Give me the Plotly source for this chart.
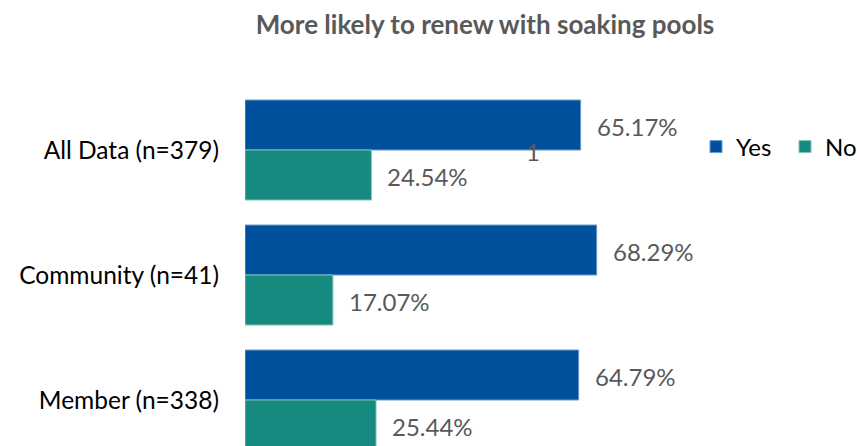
import plotly.graph_objects as go

categories = ["All Data (n=379)", "Community (n=41)", "Member (n=338)"]
yes_pct = [65.17, 68.29, 64.79]
no_pct = [24.54, 17.07, 25.44]
series_names = ["Yes", "No"]
title_text = "More likely to renew with soaking pools"

YES_COLOR = "#00509B"
NO_COLOR = "#178A80"
LABEL_GRAY = "#595959"
FONT = "Lato"

fig = go.Figure()
fig.add_trace(go.Bar(
    y=categories, x=yes_pct, name=series_names[0], orientation="h",
    marker=dict(color=YES_COLOR, line=dict(color="#6D9BD1", width=1)),
))
fig.add_trace(go.Bar(
    y=categories, x=no_pct, name=series_names[1], orientation="h",
    marker=dict(color=NO_COLOR, line=dict(color="#7FC4BC", width=1)),
))

# value labels just past the end of each bar
for cat, v in zip(categories, yes_pct):
    fig.add_annotation(x=v, y=cat, text=f"{v:.2f}%", showarrow=False,
                       xanchor="left", yanchor="middle", xshift=14, yshift=24,
                       font=dict(family=FONT, size=24, color=LABEL_GRAY))
for cat, v in zip(categories, no_pct):
    fig.add_annotation(x=v, y=cat, text=f"{v:.2f}%", showarrow=False,
                       xanchor="left", yanchor="middle", xshift=14, yshift=-26,
                       font=dict(family=FONT, size=24, color=LABEL_GRAY))

# stray "1" marker text left inside the first group
fig.add_annotation(x=55.9, y=categories[0], text="1", showarrow=False,
                   xanchor="center", yanchor="middle", yshift=-1,
                   font=dict(family=FONT, size=24, color=LABEL_GRAY))

fig.update_layout(
    width=857, height=446,
    margin=dict(l=245, r=199.5, t=75, b=0, pad=0, autoexpand=False),
    paper_bgcolor="white", plot_bgcolor="white",
    barmode="group", bargap=0.2, bargroupgap=0,
    title=dict(text=f"<b>{title_text}</b>", xref="container", x=485 / 857,
               xanchor="center", yref="container", y=1 - 25 / 446, yanchor="middle",
               font=dict(family=FONT, size=26, color=LABEL_GRAY)),
    legend=dict(orientation="h", xref="container", yref="container",
                x=696 / 857, xanchor="left", y=1 - 147 / 446, yanchor="middle",
                font=dict(family=FONT, size=24, color="black"),
                itemwidth=30, tracegroupgap=0, entrywidth=44,
                entrywidthmode="pixels", bgcolor="rgba(0,0,0,0)"),
    xaxis=dict(range=[0, 80], visible=False, fixedrange=True),
    yaxis=dict(range=[2.368, -0.6], autorange=False, showgrid=False,
               showline=False, ticks="", ticklabelstandoff=25,
               tickfont=dict(family=FONT, size=24.5, color="black")),
    showlegend=True,
)

fig.write_html("out.html")
